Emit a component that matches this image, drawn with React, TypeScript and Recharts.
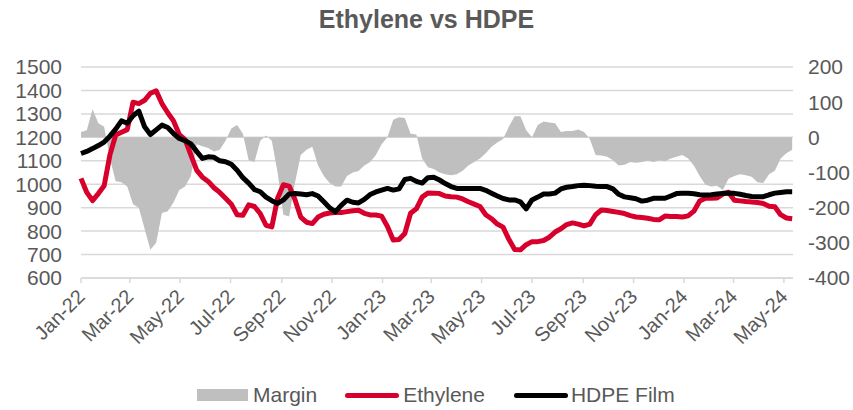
import React from 'react';
import { ComposedChart, Area, Line, XAxis, YAxis, CartesianGrid } from 'recharts';

// weekly readings, first point = 1 Jan 2022
const ETHYLENE = [
  1025, 965, 930, 960, 993, 1125, 1210, 1222, 1233, 1350,
  1344, 1358, 1388, 1398, 1344, 1305, 1270, 1212, 1190, 1125,
  1060, 1030, 1012, 985, 965, 940, 915, 870, 868, 912,
  905, 875, 825, 818, 940, 998, 992, 935, 860, 838,
  832, 860, 872, 877, 879, 879, 883, 887, 889, 876,
  869, 869, 864, 820, 762, 764, 790, 876, 895, 945,
  963, 962, 960, 950, 947, 945, 937, 925, 915, 905,
  870, 853, 830, 817, 765, 722, 720, 742, 755, 755,
  760, 774, 796, 810, 828, 835, 830, 822, 830, 870,
  890, 888, 884, 880, 875, 866, 860, 858, 855, 850,
  848, 864, 862, 862, 860, 865, 885, 928, 940, 940,
  941, 958, 966, 932, 929, 926, 924, 922, 918, 906,
  904, 870, 856, 853,
];

const HDPE_FILM = [
  1131, 1140, 1152, 1165, 1180, 1205, 1235, 1270, 1260, 1292,
  1312, 1245, 1212, 1232, 1252, 1242, 1216, 1195, 1186, 1172,
  1140, 1110, 1117, 1115, 1100, 1096, 1085, 1060, 1028, 1005,
  977, 968, 945, 930, 918, 933, 958, 960, 958, 955,
  960, 950, 925, 900, 882, 910, 932, 923, 920, 935,
  956, 967, 975, 982, 975, 980, 1020, 1025, 1012, 1005,
  1028, 1030, 1018, 1003, 990, 982, 982, 982, 982, 982,
  974, 962, 950, 939, 933, 933, 925, 895, 933, 945,
  958, 958, 962, 980, 987, 990, 994, 996, 994, 991,
  990, 990, 980, 957, 946, 942, 938, 928, 932, 940,
  940, 940, 950, 960, 961, 961, 959, 955, 954, 955,
  958, 961, 961, 961, 957, 952, 948, 947, 947, 955,
  962, 965, 968, 968,
];

const MARGIN = [
  15, 20, 80, 40, 30, -60, -125, -128, -140, -190,
  -200, -260, -320, -300, -215, -210, -185, -150, -140, -110,
  -20, -25, -30, -40, -35, -10, 25, 35, 10, -65,
  -70, -10, 5, -10, -100, -220, -225, -130, -50, -35,
  -27, -80, -110, -130, -140, -140, -110, -100, -96, -80,
  -70, -50, -20, 0, 50, 57, 55, 10, 8, -60,
  -85, -90, -100, -105, -108, -105, -95, -80, -70, -60,
  -45, -27, -15, -5, 30, 60, 60, 20, 0, 35,
  45, 42, 40, 15, 18, 18, 22, 15, -5, -50,
  -52, -55, -65, -80, -78, -70, -72, -70, -66, -70,
  -65, -68, -60, -55, -50, -60, -80, -110, -135, -140,
  -138, -150, -118, -110, -105, -108, -112, -128, -130, -105,
  -95, -60, -45, -35,
];

// days since 1 Jan 2022 for the month ticks
const TICK_DAYS = [0, 59, 120, 181, 243, 304, 365, 424, 485, 546, 608, 669, 730, 790, 851];
const TICK_LABELS = [
  'Jan-22', 'Mar-22', 'May-22', 'Jul-22', 'Sep-22', 'Nov-22', 'Jan-23', 'Mar-23',
  'May-23', 'Jul-23', 'Sep-23', 'Nov-23', 'Jan-24', 'Mar-24', 'May-24',
];
const LEFT_TICKS = [600, 700, 800, 900, 1000, 1100, 1200, 1300, 1400, 1500];
const RIGHT_TICKS = [-400, -300, -200, -100, 0, 100, 200];

const chartData = ETHYLENE.map((v, i) => ({
  day: i * 7,
  ethylene: v,
  hdpe: HDPE_FILM[i],
  margin: MARGIN[i],
}));

const TEXT = '#595959';
const FONT = '"Liberation Sans", Arial, sans-serif';

const DateTick = ({ x, y, payload }: any) => {
  const label = TICK_LABELS[TICK_DAYS.indexOf(payload.value)];
  return (
    <g transform={`translate(${x + 5},${y + 13})`}>
      <text textAnchor="end" transform="rotate(-45)" fill={TEXT} fontSize={20} fontFamily={FONT}>
        {label}
      </text>
    </g>
  );
};

const legendText = { fontSize: 21, color: TEXT };

export default function App() {
  return (
    <div
      style={{
        position: 'absolute',
        left: 0,
        top: 0,
        width: 853,
        height: 410,
        background: '#fff',
        fontFamily: FONT,
      }}
    >
      <div
        style={{
          position: 'absolute',
          top: 5,
          width: 853,
          textAlign: 'center',
          fontSize: 25,
          fontWeight: 'bold',
          color: TEXT,
        }}
      >
        Ethylene vs HDPE
      </div>
      <ComposedChart
        width={853}
        height={410}
        data={chartData}
        margin={{ top: 67, right: 0, bottom: 72, left: 0 }}
      >
        <CartesianGrid yAxisId="left" vertical={false} stroke="#d9d9d9" strokeWidth={1.5} />
        <XAxis
          dataKey="day"
          type="number"
          domain={[0, 862]}
          ticks={TICK_DAYS}
          interval={0}
          height={60}
          stroke="#d9d9d9"
          strokeWidth={1.5}
          tickSize={5}
          tick={<DateTick />}
        />
        <YAxis
          yAxisId="left"
          domain={[600, 1500]}
          ticks={LEFT_TICKS}
          interval={0}
          width={81}
          axisLine={false}
          tickLine={false}
          tickSize={0}
          tickMargin={19}
          tick={{ fill: TEXT, fontSize: 21, fontFamily: FONT }}
        />
        <YAxis
          yAxisId="right"
          orientation="right"
          domain={[-400, 200]}
          ticks={RIGHT_TICKS}
          interval={0}
          width={60}
          axisLine={false}
          tickLine={false}
          tickSize={0}
          tickMargin={15}
          tick={{ fill: TEXT, fontSize: 21, fontFamily: FONT, textAnchor: 'start' }}
        />
        <Area
          yAxisId="right"
          dataKey="margin"
          name="Margin"
          type="linear"
          baseValue={0}
          fill="#bfbfbf"
          fillOpacity={1}
          stroke="none"
          isAnimationActive={false}
        />
        <Line
          yAxisId="left"
          dataKey="ethylene"
          name="Ethylene"
          type="linear"
          stroke="#d7002c"
          strokeWidth={5}
          strokeLinejoin="round"
          dot={false}
          isAnimationActive={false}
        />
        <Line
          yAxisId="left"
          dataKey="hdpe"
          name="HDPE Film"
          type="linear"
          stroke="#000000"
          strokeWidth={5}
          strokeLinejoin="round"
          dot={false}
          isAnimationActive={false}
        />
      </ComposedChart>
      <div
        style={{
          position: 'absolute',
          left: 197,
          top: 382,
          height: 26,
          display: 'flex',
          alignItems: 'center',
          ...legendText,
        }}
      >
        <span style={{ width: 51, height: 12, background: '#bfbfbf', marginRight: 5 }} />
        <span style={{ marginRight: 28 }}>Margin</span>
        <span style={{ width: 54, height: 5, borderRadius: 3, background: '#d7002c', marginRight: 4 }} />
        <span style={{ marginRight: 29 }}>Ethylene</span>
        <span style={{ width: 54, height: 5, borderRadius: 3, background: '#000', marginRight: 3 }} />
        <span>HDPE Film</span>
      </div>
    </div>
  );
}
